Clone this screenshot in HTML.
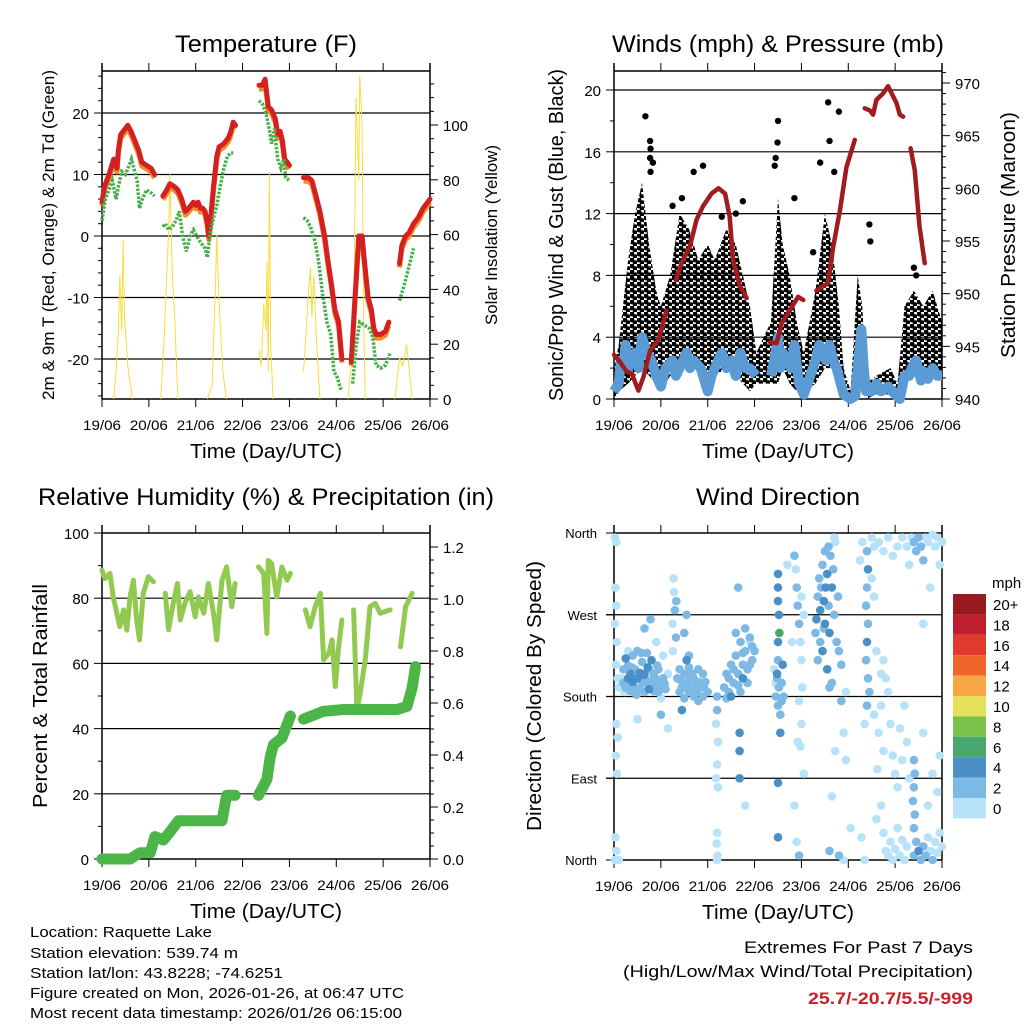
<!DOCTYPE html>
<html><head><meta charset="utf-8"><style>
html,body{margin:0;padding:0;background:#fff;}
svg{display:block;font-family:"Liberation Sans",sans-serif;}
</style></head><body>
<svg id="s" width="1024" height="1024" viewBox="0 0 1024 1024" xmlns="http://www.w3.org/2000/svg">
<defs>
<pattern id="dots" width="7" height="6" patternUnits="userSpaceOnUse">
<circle cx="1.8" cy="1.8" r="2.6" fill="#000"/>
<circle cx="5.3" cy="4.8" r="2.6" fill="#000"/>
</pattern>
</defs>
<rect width="1024" height="1024" fill="#fff"/>
<g id="g"></g>
</svg>
<script>
// ---------- DATA ----------
const dayLabels = ["19/06","20/06","21/06","22/06","23/06","24/06","25/06","26/06"];
const t2mSegs = [
 [[0,5.5],[0.05,8],[0.15,10],[0.25,12.5],[0.32,11],[0.35,14],[0.4,16.5],[0.5,17.5],[0.55,18],[0.62,17],[0.7,15.5],[0.78,14],[0.85,12],[0.95,11.5],[1.05,11],[1.12,10]],
 [[1.3,6.5],[1.38,7.5],[1.45,8.5],[1.55,8],[1.62,7.5],[1.7,6],[1.78,4],[1.85,4.5],[1.95,5.5],[2.0,5],[2.05,5.5],[2.1,4.5],[2.15,4.5],[2.2,4],[2.25,2],[2.28,0],[2.32,3],[2.38,8],[2.45,13],[2.5,14.5],[2.6,15],[2.7,16],[2.75,17],[2.8,18.5],[2.85,18]],
 [[3.35,24.5],[3.42,24.5],[3.48,25.5],[3.52,23],[3.55,21],[3.62,20.5],[3.7,19],[3.75,16.5],[3.8,17],[3.85,15.5],[3.9,12.5],[3.95,12],[4.0,11.5]],
 [[4.3,9.5],[4.4,9.5],[4.48,9],[4.55,7],[4.65,4],[4.75,0],[4.82,-4],[4.9,-8],[4.97,-12],[5.05,-14],[5.12,-20]],
 [[5.32,-20.5],[5.4,-10],[5.48,0],[5.55,0],[5.6,-4],[5.68,-10],[5.75,-12],[5.8,-15],[5.85,-16],[5.95,-16],[6.05,-15.5],[6.12,-14]],
 [[6.35,-4.5],[6.4,-1.5],[6.48,0],[6.55,0.5],[6.65,2],[6.75,3],[6.85,4.5],[6.95,5.5],[7.0,6]]
];
const tdSegs = [
 [[0,2.5],[0.07,6],[0.15,7.5],[0.22,9],[0.3,6],[0.35,8],[0.42,10.5],[0.5,10],[0.58,11.5],[0.63,12.5],[0.68,11],[0.75,9],[0.8,4.5],[0.86,6],[0.95,7.5],[1.05,7],[1.12,6.5]],
 [[1.3,1.5],[1.35,2],[1.42,1],[1.5,1.5],[1.58,2.5],[1.65,4],[1.72,0],[1.8,-2.5],[1.88,0],[1.95,1],[2.02,0],[2.1,-1],[2.2,-2],[2.25,-3.5],[2.3,0],[2.38,3],[2.45,5],[2.52,8],[2.6,11],[2.68,13],[2.75,13.5],[2.8,13.5]],
 [[3.35,22],[3.42,21.5],[3.5,20],[3.58,17],[3.62,15],[3.68,17.5],[3.75,12.5],[3.82,11],[3.88,12.5],[3.92,9.5],[4.0,9]],
 [[4.3,3],[4.38,2.5],[4.45,1.5],[4.55,-1],[4.62,-4],[4.7,-9],[4.8,-14],[4.88,-16],[4.95,-22],[5.02,-23],[5.1,-25]],
 [[5.35,-24],[5.42,-18],[5.5,-14],[5.6,-14.5],[5.7,-15],[5.78,-16.5],[5.85,-21],[5.95,-21.5],[6.05,-21],[6.15,-19]],
 [[6.35,-10.5],[6.45,-8],[6.55,-5],[6.65,-2]]
];
const solarTimes = [0.25,0.3,0.35,0.38,0.42,0.45,0.48,0.55,0.65, 1.25,1.32,1.38,1.42,1.45,1.5,1.55,1.62, 2.25,2.35,2.42,2.45,2.5,2.58,2.65, 3.35,3.4,3.45,3.5,3.52,3.55,3.57,3.6,3.65, 4.3,4.35,4.4,4.45,4.48,4.52,4.58,4.65, 5.25,5.32,5.38,5.42,5.48,5.5,5.55,5.58,5.62, 6.25,6.35,6.42,6.5,6.55,6.62];
const solarVals  = [0,10,25,45,25,58,30,12,0, 0,20,45,60,82,45,30,0, 0,5,40,60,35,10,0, 18,12,35,25,50,10,83,20,0, 10,22,38,48,30,45,20,0, 0,12,40,110,80,118,100,30,0, 0,15,12,20,12,0];
const gustTimes = [0,0.1,0.3,0.45,0.6,0.75,0.9,1.0,1.2,1.4,1.6,1.8,2.0,2.15,2.4,2.6,2.9,3.04,3.35,3.5,3.6,3.75,3.9,4.05,4.3,4.5,4.65,4.8,4.9,5.05,5.2,5.3,5.38,5.6,5.9,6.05,6.2,6.4,6.6,6.8,7.0];
const gustHi = [2,3.5,9,12,14,10,7,6,8,12,11,9,10,9,11,10,6,3,5,13,10,8,5,3,7,12,10,6,2,0.5,8,6,1,1.5,2,1,6,7,6,7,5];
const gustLo = [0,0.5,1,1.5,2,1.5,1,0.5,1.5,2,2.5,2,0.5,1.5,2,1.5,0.5,1,1,1,2,1,0.5,0.5,1,2,2,0.5,0,0,1,0.5,0,0.3,0.3,0,1,1.5,1,1.5,1.5];
const gustOutT = [0.67,0.77,0.78,0.77,0.83,0.78,1.7,1.9,1.45,2.75,3.5,3.49,3.45,3.43,3.85,4.57,4.8,4.6,4.4,4.7,5.45,5.47,6.4,6.45,1.25,2.3,2.6,4.25];
const gustOutV = [18.3,16.7,16.2,15.6,15.3,14.7,14.7,15.1,13,12.8,18,16.6,15.6,15.1,13,19.2,18.6,16.7,15.3,14.7,11.3,10.2,8.5,8,12.5,11.8,12,9.5];
const windTimes = [0,0.1,0.15,0.2,0.25,0.3,0.35,0.45,0.52,0.6,0.7,0.8,0.9,1.0,1.1,1.25,1.32,1.4,1.55,1.62,1.7,1.85,2.0,2.08,2.15,2.3,2.4,2.5,2.6,2.7,2.8,2.9,3.03];
const windVals  = [0.5,1,2.5,2,3.5,2,2.5,3,2,4,3,2.5,1.5,0.8,2,2.5,1.5,2,3,2,2.5,2,0.5,1.5,2,3,2,2.5,1.5,3,2,2,1.5];
const windTimes2 = [3.35,3.42,3.5,3.55,3.6,3.7,3.78,3.85,3.95,4.05, 4.3,4.38,4.45,4.52,4.6,4.68,4.75,4.9,5.05,5.15,5.2,5.28,5.33,5.38,5.5,5.6,5.7,5.85,6.0,6.1,6.2,6.3,6.35,6.45,6.55,6.6,6.7,6.8,6.9,7.0];
const windVals2  = [1.5,2.5,4,2,3,2.5,2,3.5,1,0.3, 2.5,3.5,3,2.5,3.5,2.5,2,0.3,0,0.2,2,4.5,2,0.5,0.5,1,0.5,0.8,0.3,0,1.5,1.5,2,2.5,1.2,1.8,1.3,2,1.5,1.5];
const presSegs = [
 [[0,944.2],[0.13,943.5],[0.27,942.6],[0.38,942.4],[0.52,940.8],[0.63,942.1],[0.77,944.6],[0.95,945.6],[1.12,948.4]],
 [[1.32,951.3],[1.44,952.9],[1.62,954.5],[1.76,957],[1.9,958.3],[2.08,959.5],[2.23,960],[2.37,959.5],[2.47,957.3],[2.54,953.2],[2.69,950.7],[2.83,949.6]],
 [[3.33,945.4],[3.47,945.3],[3.58,947.2],[3.75,948.4],[3.93,949.7],[4.04,949.4]],
 [[4.32,950.3],[4.46,950.7],[4.57,951],[4.68,954.5],[4.82,957.9],[4.96,962],[5.14,964.6]],
 [[5.35,967.6],[5.46,967.4],[5.53,967],[5.6,968.4],[5.74,969],[5.85,969.7],[5.96,968.7],[6.03,968.1],[6.1,967],[6.17,966.8]],
 [[6.33,963.8],[6.42,961.7],[6.52,956.4],[6.63,952.9]]
];
const rhSegs = [
 [[0,88.6],[0.06,86],[0.17,87.6],[0.24,80.4],[0.38,71.3],[0.46,76.4],[0.53,70.2],[0.6,80.4],[0.67,85.5],[0.74,73.3],[0.8,67.2],[0.88,81.5],[0.99,86.6],[1.1,85]],
 [[1.35,81.5],[1.42,70.3],[1.52,78.4],[1.61,84.5],[1.67,73.3],[1.77,78.4],[1.88,82],[1.99,74.3],[2.06,80.4],[2.17,75.4],[2.27,84.5],[2.38,75.4],[2.45,67.2],[2.56,85.5],[2.66,89.6],[2.77,77.4],[2.84,84.5]],
 [[3.34,89.6],[3.45,87.6],[3.52,69.2],[3.55,91.6],[3.62,90.6],[3.73,80.4],[3.84,89.6],[3.95,85.5],[4.02,87.6]],
 [[4.34,76.4],[4.44,71.3],[4.55,77.4],[4.66,81.5],[4.73,61.1],[4.84,63.1],[4.91,67.2],[4.98,52.9],[5.05,65.1],[5.12,73.3]],
 [[5.37,76.4],[5.44,45.8],[5.51,50.9],[5.62,61.1],[5.72,77.4],[5.83,78.4],[5.94,75.4],[6.15,76.4]],
 [[6.37,65.1],[6.48,77.4],[6.62,81.5]]
];
const precipSegs = [
 [[0,0],[0.6,0],[0.81,0.024],[1.03,0.024],[1.13,0.086],[1.31,0.073],[1.45,0.104],[1.63,0.147],[2.56,0.147],[2.66,0.245],[2.84,0.245]],
 [[3.34,0.245],[3.52,0.306],[3.59,0.391],[3.66,0.44],[3.84,0.465],[4.02,0.55]],
 [[4.3,0.538],[4.73,0.568],[5.16,0.575],[6.3,0.575],[6.51,0.587],[6.62,0.66],[6.69,0.74]]
];
const dirObs = [
 [0.02,355,1],[0.05,350,1],[0.03,300,1],[0.05,280,1],[0.02,260,1],[0.06,240,1],[0.04,215,1],[0.08,200,1],[0.1,190,1],[0.05,150,1],[0.08,135,1],[0.04,115,1],[0.06,95,1],[0.03,25,1],[0.05,10,1],[0.02,0,1],[0.1,0,1],
 [0.2,195,3],[0.2,210,3],[0.25,190,3],[0.25,222,5],[0.3,200,5],[0.3,214,3],[0.35,186,3],[0.35,205,5],[0.4,196,5],[0.4,225,3],[0.45,190,3],[0.45,210,3],[0.5,200,5],[0.5,230,3],[0.55,188,3],[0.55,206,5],[0.6,196,3],[0.6,218,3],[0.65,185,3],[0.65,204,5],[0.7,194,3],[0.7,228,3],[0.75,188,5],[0.75,210,3],[0.8,198,3],[0.8,220,5],[0.85,186,3],[0.85,205,3],[0.9,195,3],[0.9,240,1],[0.95,185,3],[0.95,210,3],[1.0,192,3],[1.0,178,1],[1.05,200,3],[1.05,225,1],[1.1,188,3],[1.15,205,1],
 [0.78,265,3],[0.5,155,1],[1.0,160,3],[1.15,145,1],[0.65,255,3],[0.15,200,1],[0.22,185,1],[0.3,230,1],
 [0.28,192,3],[0.38,212,3],[0.48,182,3],[0.58,228,3],[0.68,196,3],[0.72,212,5],[0.82,190,3],[0.92,214,3],[1.08,194,3],[0.42,200,3],[0.62,205,3],[0.88,200,3],
 [1.27,310,1],[1.28,295,1],[1.3,275,3],[1.25,260,1],[1.32,245,3],[1.26,230,1],[1.33,285,3],
 [1.35,200,3],[1.4,185,3],[1.4,210,3],[1.45,190,3],[1.5,178,3],[1.5,205,3],[1.55,195,3],[1.6,185,3],[1.6,212,3],[1.65,190,3],[1.7,180,3],[1.7,200,3],[1.75,195,3],[1.8,175,3],[1.8,210,3],[1.85,190,3],[1.9,180,3],[1.9,205,3],[1.95,196,3],[2.0,185,3],[1.5,250,3],[1.55,270,3],[1.6,225,3],[1.45,165,5],[1.55,220,5],
 [1.42,198,3],[1.52,190,3],[1.62,200,3],[1.72,190,3],[1.82,196,3],[1.92,190,3],[1.67,205,3],[1.77,185,3],
 [2.2,180,3],[2.2,165,3],[2.18,150,1],[2.22,130,1],[2.2,105,1],[2.18,90,1],[2.22,80,1],[2.2,30,1],[2.19,18,1],[2.21,5,1],[2.2,0,1],
 [2.65,300,3],[2.68,120,5],[2.68,90,5],[2.68,140,5],[2.8,60,1],[2.9,240,1],
 [2.35,190,3],[2.4,205,3],[2.45,185,3],[2.5,215,3],[2.55,195,3],[2.6,225,3],[2.65,205,3],[2.7,240,3],[2.75,215,3],[2.8,230,3],[2.85,210,3],[2.9,245,3],[2.95,220,3],[3.0,230,3],[2.85,195,3],[2.75,200,5],[2.7,185,3],[2.6,250,3],[2.8,255,3],[2.5,180,5],[2.4,178,3],
 [2.45,200,3],[2.55,210,3],[2.65,192,3],[2.75,228,3],[2.9,215,3],[2.95,235,3],
 [3.5,315,5],[3.5,300,5],[3.5,285,5],[3.52,270,5],[3.53,250,7],[3.5,240,5],[3.5,220,3],[3.48,205,5],[3.52,190,3],[3.45,180,3],[3.5,170,3],[3.55,160,3],[3.48,200,3],[3.58,195,3],[3.6,215,5],[3.62,180,3],[3.58,175,3],[3.55,140,5],[3.5,85,5],[3.5,25,5],[3.45,195,1],[3.42,210,1],
 [3.85,335,3],[3.88,320,1],[3.9,300,3],[3.92,280,3],[3.95,260,3],[3.98,240,1],[4.0,220,1],[4.02,190,1],[3.95,175,1],[4.0,150,1],[3.98,125,1],[4.05,95,1],[3.92,130,1],[3.85,60,1],[3.9,20,1],[3.95,5,3],[4.0,290,1],[4.05,270,1],[3.7,325,1],[3.8,240,1],
 [4.3,250,3],[4.32,265,5],[4.35,290,3],[4.38,310,3],[4.4,275,5],[4.42,300,3],[4.45,325,3],[4.48,285,5],[4.5,260,5],[4.5,340,3],[4.52,300,5],[4.55,315,5],[4.58,280,3],[4.6,250,5],[4.62,335,3],[4.65,300,5],[4.68,320,3],[4.7,270,3],[4.72,350,1],[4.75,240,3],[4.78,290,3],[4.8,230,3],[4.85,215,3],[4.45,230,5],[4.55,210,5],[4.4,240,3],[4.35,220,3],[4.6,190,3],[4.7,355,1],[4.65,195,3],[4.48,255,3],[4.58,345,3],
 [4.85,175,3],[4.9,140,1],[4.95,110,1],[4.72,120,1],[4.65,70,1],[4.6,10,3],[4.9,0,1],[4.8,5,3],[5.05,35,1],[4.95,185,1],
 [5.4,340,3],[5.42,320,5],[5.4,300,3],[5.38,280,3],[5.42,260,3],[5.4,240,5],[5.38,220,3],[5.42,200,3],[5.4,170,3],[5.35,150,1],[5.3,350,1],[5.25,330,1],[5.45,185,3],[5.35,0,1],[5.28,25,1],
 [5.5,355,1],[5.55,345,1],[5.65,350,1],[5.75,340,1],[5.85,355,1],[5.95,335,1],[6.05,345,1],[6.15,355,1],[5.5,310,1],[5.55,290,1],[5.6,230,1],[5.7,205,1],[5.75,220,1],[5.8,200,1],[5.85,185,1],[5.55,160,1],[5.65,140,1],[5.75,120,1],[5.62,100,1],[5.7,170,1],[5.9,150,1],[5.95,115,1],[6.1,145,1],[6.15,110,1],[6.2,170,1],[6.25,130,1],[6.3,90,1],[6.05,80,1],[5.7,60,1],[5.75,30,1],[5.8,10,1],[5.85,5,1],[5.9,20,1],[5.95,0,1],[6.0,12,1],[6.05,35,1],[6.1,5,1],[6.15,22,1],[6.2,0,1],[6.25,15,1],[5.6,45,1],[6.0,95,1],
 [6.4,110,3],[6.42,95,3],[6.4,80,3],[6.38,65,3],[6.42,50,3],[6.4,35,3],[6.45,20,3],[6.4,5,3],[6.5,10,5],[6.55,0,3],[6.6,15,3],[6.65,5,3],[6.7,25,1],[6.75,10,1],[6.8,0,3],[6.85,20,1],[6.9,8,1],[6.95,30,1],[7.0,15,1],[6.7,60,1],[6.8,95,1],[6.9,75,1],[6.95,115,1],[6.6,140,1],
 [6.35,355,1],[6.4,350,3],[6.45,340,3],[6.5,355,3],[6.55,345,3],[6.6,330,3],[6.65,355,1],[6.7,350,1],[6.8,358,1],[6.85,345,1],[6.9,355,1],[6.95,325,1],[7.0,350,1],[6.3,325,1],[6.25,345,1],[6.6,260,1],[6.75,300,1]
];
const legendLabels = ["20+","18","16","14","12","10","8","6","4","2","0"];
const legendColors = ["#961b1f","#be1e2d","#e03a2c","#f0652a","#f7a845","#e7e05a","#7bc24b","#48a86f","#4a8fc6","#7cb9e4","#b7e2f8"];

// ---------- helpers ----------
const NS="http://www.w3.org/2000/svg";
const root=document.getElementById('g');
function el(tag,attrs,parent,txt){const e=document.createElementNS(NS,tag);for(const k in attrs)e.setAttribute(k,attrs[k]);if(txt!==undefined)e.textContent=txt;(parent||root).appendChild(e);return e;}
function lin(d0,d1,r0,r1){return v=>r0+(v-d0)*(r1-r0)/(d1-d0);}
function pathOf(pts,xf,yf){return pts.map((p,i)=>(i?'L':'M')+xf(p[0]).toFixed(1)+','+yf(p[1]).toFixed(1)).join('');}

function frame(L,R,T,B,xs,name){
  const g=el('g',{});
  
  
  el('line',{x1:L,y1:T-8,x2:L,y2:B,stroke:'#000','stroke-width':1.5},g);
  el('line',{x1:R,y1:T-8,x2:R,y2:B,stroke:'#000','stroke-width':1.5},g);
  el('line',{x1:L,y1:B,x2:R,y2:B,stroke:'#000','stroke-width':1.5},g);
  el('line',{x1:L,y1:T,x2:R,y2:T,stroke:'#000','stroke-width':1.5},g);
  dayLabels.forEach((lab,i)=>{const x=xs(i);
    el('line',{x1:x,y1:T-8,x2:x,y2:T,stroke:'#000','stroke-width':1},g);
    el('line',{x1:x,y1:B,x2:x,y2:B+8,stroke:'#000','stroke-width':1},g);
    const t=el('text',{x:x,y:B+31,'text-anchor':'middle','font-size':14,textLength:38,lengthAdjust:'spacingAndGlyphs'},g,lab);
    
    
  });
  const xt=el('text',{x:(L+R)/2,y:B+59,'text-anchor':'middle','font-size':20,textLength:152,lengthAdjust:'spacingAndGlyphs'},g,'Time (Day/UTC)');
  
  
  return g;
}
function gridY(L,R,y,g){el('line',{x1:L,y1:y,x2:R,y2:y,stroke:'#000','stroke-width':1.2},g);}
function title(x,y,txt,w){const t=el('text',{x:x,y:y,'text-anchor':'middle','font-size':24,textLength:w,lengthAdjust:'spacingAndGlyphs'},root,txt);
  
  }
function vtitle(x,y,txt,size,w,name){const t=el('text',{x:0,y:0,'text-anchor':'middle','font-size':size,transform:`translate(${x},${y}) rotate(-90)`,textLength:w,lengthAdjust:'spacingAndGlyphs'},root,txt);
  
  }
function ticksLeft(L,vals,yf,labelFn,g,minor){
  vals.forEach(v=>{const y=yf(v);el('line',{x1:L-8,y1:y,x2:L,y2:y,stroke:'#000','stroke-width':1},g);
    if(labelFn){const t=el('text',{x:L-13,y:y+6,'text-anchor':'end','font-size':15},g,labelFn(v));
      
      }});
  (minor||[]).forEach(v=>{const y=yf(v);el('line',{x1:L-4,y1:y,x2:L,y2:y,stroke:'#000','stroke-width':1},g);});
}
function ticksRight(R,vals,yf,labelFn,g,minor){
  vals.forEach(v=>{const y=yf(v);el('line',{x1:R,y1:y,x2:R+8,y2:y,stroke:'#000','stroke-width':1},g);
    const t=el('text',{x:R+13,y:y+6,'text-anchor':'start','font-size':15},g,labelFn(v));
    
    });
  (minor||[]).forEach(v=>{const y=yf(v);el('line',{x1:R,y1:y,x2:R+4,y2:y,stroke:'#000','stroke-width':1},g);});
}
function range(a,b,s){const r=[];for(let v=a;v<=b+1e-9;v+=s)r.push(+v.toFixed(3));return r;}
function splitByGap(pts,gap){const out=[];let cur=[];pts.forEach((p,i)=>{if(i&&p[0]-pts[i-1][0]>gap){out.push(cur);cur=[];}cur.push(p);});if(cur.length)out.push(cur);return out;}

// ---------- Panel 1: Temperature ----------
{
 const L=102,R=430,T=71,B=399;
 const x=lin(0,7,L,R), y=lin(0,20,236,113), ys=lin(0,100,399,125);
 const g=frame(L,R,T,B,x,'temperature');
 [20,10,0,-10,-20].forEach(v=>gridY(L,R,y(v),g));
 ticksLeft(L,[20,10,0,-10,-20],y,v=>String(v),g,range(-26,26,2).filter(v=>v%10));
 ticksRight(R,[0,20,40,60,80,100],ys,v=>String(v),g,range(5,115,5).filter(v=>v%20));
 const sp=solarTimes.map((t,i)=>[t,solarVals[i]]);
 splitByGap(sp,0.3).forEach(seg=>{
   const sol=el('path',{d:pathOf(seg,x,ys),fill:'none',stroke:'#f9dc3c','stroke-width':1});
   
   });
 t2mSegs.forEach(s=>{const o=el('path',{d:pathOf(s.map(p=>[p[0],p[1]-0.6]),x,y),fill:'none',stroke:'#f08c2a','stroke-width':5,'stroke-linejoin':'round'});
   
   });
 t2mSegs.forEach(s=>{const r=el('path',{d:pathOf(s,x,y),fill:'none',stroke:'#d42020','stroke-width':5,'stroke-linejoin':'round','stroke-linecap':'round'});
   
   });
 tdSegs.forEach(s=>{const d=el('path',{d:pathOf(s,x,y),fill:'none',stroke:'#45b048','stroke-width':3.5,'stroke-dasharray':'2.5 1.5'});
   
   });
 title(266,52,'Temperature (F)',182);
 vtitle(54,235,'2m & 9m T (Red, Orange) & 2m Td (Green)',17,330,'left-y-axis-title');
 vtitle(497,235,'Solar Insolation (Yellow)',17,180,'right-y-axis-title');
}
// ---------- Panel 2: Winds & Pressure ----------
{
 const L=614,R=942,T=71,B=399;
 const x=lin(0,7,L,R), y=lin(0,20,399,90), yp=lin(940,970,399,83);
 const g=frame(L,R,T,B,x,'winds');
 [4,8,12,16,20].forEach(v=>gridY(L,R,y(v),g));
 ticksLeft(L,[0,4,8,12,16,20],y,v=>String(v),g,range(2,20,2).filter(v=>v%4));
 ticksRight(R,[940,945,950,955,960,965,970],yp,v=>String(v),g,range(941,971,1).filter(v=>v%5));
 const hi=gustTimes.map((t,i)=>[t,gustHi[i]]), lo=gustTimes.map((t,i)=>[t,gustLo[i]]).reverse();
 const band=el('path',{d:pathOf(hi.concat(lo),x,y)+'Z',fill:'url(#dots)',stroke:'none'});
 
 
 gustOutT.forEach((t,i)=>{const c=el('circle',{cx:x(t),cy:y(gustOutV[i]),r:3.2,fill:'#000'});
   
   });
 [[windTimes,windVals],[windTimes2,windVals2]].forEach(([ts,vs])=>{
   const w=el('path',{d:pathOf(ts.map((t,i)=>[t,vs[i]]),x,y),fill:'none',stroke:'#5b9bd5','stroke-width':10,'stroke-linejoin':'round'});
   
   });
 presSegs.forEach(s=>{const p=el('path',{d:pathOf(s,x,yp),fill:'none',stroke:'#a01c1f','stroke-width':4.5,'stroke-linejoin':'round','stroke-linecap':'round'});
   
   });
 title(778,52,'Winds (mph) & Pressure (mb)',332);
 vtitle(563,235,'Sonic/Prop Wind & Gust (Blue, Black)',20,332,'left-y-axis-title');
 vtitle(1015,235,'Station Pressure (Maroon)',20,246,'right-y-axis-title');
}
// ---------- Panel 3: RH & Precip ----------
{
 const L=102,R=430,T=533,B=859;
 const x=lin(0,7,L,R), y=lin(0,100,859,533), yp=lin(0,1.2,859,547);
 const g=frame(L,R,T,B,x,'humidity');
 [80,60,40,20].forEach(v=>gridY(L,R,y(v),g));
 ticksLeft(L,[0,20,40,60,80,100],y,v=>String(v),g,range(10,90,20));
 ticksRight(R,[0,0.2,0.4,0.6,0.8,1.0,1.2],yp,v=>v.toFixed(1),g,range(0.05,1.15,0.05).filter(v=>Math.round(v*100)%20));
 rhSegs.forEach(s=>{const p=el('path',{d:pathOf(s,x,y),fill:'none',stroke:'#92c950','stroke-width':5,'stroke-linejoin':'round','stroke-linecap':'round'});
   
   });
 precipSegs.forEach(s=>{const p=el('path',{d:pathOf(s,x,yp),fill:'none',stroke:'#4bb548','stroke-width':11,'stroke-linejoin':'round','stroke-linecap':'round'});
   
   });
 title(266,505,'Relative Humidity (%) & Precipitation (in)',456);
 vtitle(47,696,'Percent & Total Rainfall',20,224,'left-y-axis-title');
}
// ---------- Panel 4: Wind Direction ----------
{
 const L=614,R=942,T=533,B=860;
 const x=lin(0,7,L,R), y=lin(0,360,860,533);
 const g=frame(L,R,T,B,x,'wind-direction');
 [90,180,270].forEach(v=>gridY(L-8,R,y(v),g));
 const dirNames=["North","East","South","West","North"];
 [0,90,180,270,360].forEach((v,i)=>{const yy=y(v);el('line',{x1:L-8,y1:yy,x2:L,y2:yy,stroke:'#000'},g);
   const t=el('text',{x:L-17,y:yy+5,'text-anchor':'end','font-size':13},g,dirNames[i]);
   
   });
 function col(s){const idx=Math.min(10,Math.floor(s/2));return legendColors[10-idx];}
 const sorted=dirObs.slice().sort((a,b)=>a[2]-b[2]);
 sorted.forEach(o=>{const c=el('circle',{cx:x(o[0]).toFixed(1),cy:y(o[1]).toFixed(1),r:4.3,fill:col(o[2])});
   
   });
 title(778,505,'Wind Direction',164);
 vtitle(541,696,'Direction (Colored By Speed)',20,270,'left-y-axis-title');
 const lg=el('g',{});
 
 
 el('text',{x:992,y:588,'font-size':15},lg,'mph');
 legendLabels.forEach((lab,i)=>{const yy=594+i*20.4;
   const r=el('rect',{x:953,y:yy,width:33,height:20.4,fill:legendColors[i]},lg);
   
   
   el('text',{x:993,y:yy+16,'font-size':15},lg,lab);});
}
// ---------- Footer ----------
{
 const lines=["Location: Raquette Lake","Station elevation: 539.74 m","Station lat/lon: 43.8228; -74.6251","Figure created on Mon, 2026-01-26, at 06:47 UTC","Most recent data timestamp: 2026/01/26 06:15:00"];
 const widths=[182,208,253,374,372];
 const base=[937,958,978,998,1018];
 lines.forEach((l,i)=>{const t=el('text',{x:30,y:base[i],'font-size':15,textLength:widths[i],lengthAdjust:'spacingAndGlyphs'},root,l);
   
   });
 const a=el('text',{x:973,y:953,'text-anchor':'end','font-size':17,textLength:229,lengthAdjust:'spacingAndGlyphs'},root,'Extremes For Past 7 Days');
 
 
 const b=el('text',{x:973,y:977,'text-anchor':'end','font-size':17,textLength:350,lengthAdjust:'spacingAndGlyphs'},root,'(High/Low/Max Wind/Total Precipitation)');
 
 
 const c=el('text',{x:973,y:1004,'text-anchor':'end','font-size':17,'font-weight':'bold',fill:'#c8202c',textLength:165,lengthAdjust:'spacingAndGlyphs'},root,'25.7/-20.7/5.5/-999');
 
 
}
</script>
</body></html>
